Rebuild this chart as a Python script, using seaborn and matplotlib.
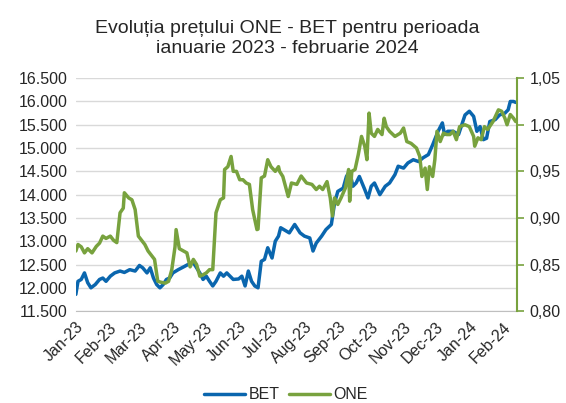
import pandas as pd
import seaborn as sns
import matplotlib.pyplot as plt
import matplotlib.dates as mdates
from matplotlib.ticker import FuncFormatter, MultipleLocator

# days since 1 Jan 2023
bet_days = [0, 2, 5, 8, 11, 14, 18, 22, 25, 28, 32, 36, 41, 45, 50, 55, 59, 62, 66, 69,
            72, 75, 78, 81, 84, 87, 90, 95, 100, 104, 109, 112, 115, 118, 121, 124, 127,
            130, 134, 137, 140, 143, 146, 151, 154, 157, 160, 163, 166, 169, 172, 175,
            178, 182, 185, 188, 190, 198, 203, 208, 212, 217, 220, 223, 228, 232, 237,
            240, 243, 248, 251, 254, 257, 260, 263, 268, 271, 274, 277, 282, 287, 291,
            296, 299, 304, 308, 313, 318, 322, 327, 331, 336, 340, 342, 345, 350, 355,
            358, 361, 365, 369, 372, 375, 378, 381, 384, 389, 393, 398, 401, 403, 406, 408]
bet = [11860, 12140, 12180, 12320, 12110, 12000, 12070, 12180, 12210, 12140, 12250, 12320,
       12360, 12330, 12390, 12360, 12480, 12430, 12320, 12430, 12210, 12070, 12000, 12070,
       12180, 12210, 12320, 12390, 12450, 12500, 12540, 12430, 12320, 12180, 12250, 12140,
       12040, 12140, 12320, 12250, 12320, 12250, 12180, 12190, 12250, 12040, 12360, 12140,
       12040, 12000, 12570, 12610, 12860, 12640, 13000, 13110, 13290, 13180, 13360, 13180,
       13110, 13070, 12790, 12960, 13110, 13250, 13360, 13820, 14070, 14140, 14390, 14500,
       14180, 14250, 14390, 14110, 13930, 14180, 14250, 14000, 14180, 14250, 14430, 14610,
       14570, 14680, 14750, 14710, 14790, 14860, 15070, 15360, 15540, 15290, 15360, 15360,
       15290, 15500, 15710, 15790, 15680, 15360, 15460, 15180, 15210, 15570, 15610, 15710,
       15750, 15820, 16000, 16000, 15980]

one_days = [0, 2, 5, 8, 11, 15, 19, 22, 25, 28, 32, 35, 38, 41, 44, 45, 49, 52, 55, 58,
            61, 64, 67, 70, 73, 76, 79, 83, 86, 89, 92, 93, 96, 100, 103, 106, 109, 112,
            115, 118, 121, 124, 127, 130, 134, 137, 138, 141, 144, 146, 149, 152, 155, 158,
            161, 164, 168, 169, 172, 175, 178, 181, 185, 188, 189, 192, 197, 200, 205, 209,
            214, 219, 223, 226, 229, 233, 236, 238, 240, 243, 246, 250, 253, 254, 256, 259,
            262, 265, 268, 270, 272, 274, 277, 280, 284, 286, 288, 291, 296, 301, 304, 307,
            311, 316, 319, 321, 324, 326, 328, 331, 333, 335, 338, 341, 344, 347, 350, 353,
            356, 361, 365, 369, 370, 373, 376, 379, 382, 387, 392, 395, 398, 400, 403, 406, 408]
one = [0.8645, 0.8715, 0.869, 0.8625, 0.867, 0.8625, 0.8695, 0.873, 0.8805, 0.878, 0.8805,
       0.876, 0.8735, 0.9055, 0.9105, 0.927, 0.9215, 0.9195, 0.909, 0.8805, 0.876, 0.8715,
       0.8645, 0.860, 0.8555, 0.832, 0.831, 0.830, 0.832, 0.8445, 0.869, 0.8875, 0.867,
       0.8645, 0.8625, 0.8475, 0.8555, 0.850, 0.8375, 0.839, 0.841, 0.8445, 0.8445, 0.9055,
       0.9195, 0.9215, 0.952, 0.955, 0.966, 0.950, 0.950, 0.941, 0.941, 0.9375, 0.936,
       0.909, 0.8875, 0.888, 0.943, 0.945, 0.9625, 0.955, 0.950, 0.955, 0.950, 0.9445,
       0.923, 0.9375, 0.936, 0.945, 0.9375, 0.936, 0.9305, 0.934, 0.9305, 0.939, 0.9215,
       0.902, 0.9215, 0.9145, 0.9215, 0.932, 0.952, 0.918, 0.950, 0.952, 0.968, 0.9875,
       0.977, 0.9625, 1.0125, 0.991, 0.9875, 0.995, 0.9895, 1.007, 0.998, 0.993, 0.9875,
       0.991, 0.9965, 0.982, 0.980, 0.975, 0.966, 0.9445, 0.9535, 0.9305, 0.955, 0.9445,
       0.9625, 0.993, 0.982, 0.991, 0.9895, 0.9895, 0.993, 0.984, 0.998, 1.000, 0.998,
       0.9875, 0.977, 0.986, 0.984, 0.998, 0.995, 1.0035, 1.016, 1.0145, 1.007, 1.000,
       1.011, 1.007, 1.0035]

start = pd.Timestamp('2023-01-01')
df_bet = pd.DataFrame({'date': start + pd.to_timedelta(bet_days, unit='D'), 'value': bet})
df_one = pd.DataFrame({'date': start + pd.to_timedelta(one_days, unit='D'), 'value': one})

blue = '#0A66AE'
green = '#78A23E'

sns.set_style('white')
plt.rcParams['font.family'] = ['Liberation Sans', 'DejaVu Sans']

fig = plt.figure(figsize=(5.66, 4.03), dpi=100)
ax = fig.add_axes([0.134, 0.228, 0.779, 0.578])
ax2 = ax.twinx()

sns.lineplot(data=df_bet, x='date', y='value', ax=ax, color=blue, linewidth=2.5, label='BET', legend=False)
sns.lineplot(data=df_one, x='date', y='value', ax=ax2, color=green, linewidth=2.5, label='ONE', legend=False)

# left axis
ax.set_ylim(11500, 16500)
ax.yaxis.set_major_locator(MultipleLocator(500))
ax.yaxis.set_major_formatter(FuncFormatter(lambda v, p: f'{v:,.0f}'.replace(',', '.')))
ax.grid(axis='y', color='#D9D9D9', linewidth=1)
ax.set_axisbelow(True)
ax.set_xlabel('')
ax.set_ylabel('')
ax.tick_params(axis='y', length=0, labelsize=11.5, pad=6)

# x axis
ax.set_xlim(start, start + pd.Timedelta(days=409))
ax.xaxis.set_major_locator(mdates.MonthLocator())
ax.xaxis.set_major_formatter(mdates.DateFormatter('%b-%y'))
ax.tick_params(axis='x', length=4, color='#BFBFBF', direction='out', labelsize=11.5, pad=2)
for lbl in ax.get_xticklabels():
    lbl.set_rotation(45)
    lbl.set_ha('right')
    lbl.set_rotation_mode('anchor')

for s in ['top', 'left', 'right']:
    ax.spines[s].set_visible(False)
ax.spines['bottom'].set_color('#BFBFBF')

# right axis
ax2.set_ylim(0.80, 1.05)
ax2.yaxis.set_major_locator(MultipleLocator(0.05))
ax2.yaxis.set_major_formatter(FuncFormatter(lambda v, p: f'{v:.2f}'.replace('.', ',')))
ax2.set_ylabel('')
ax2.tick_params(axis='y', length=5, color=green, width=1.2, labelsize=11.5, pad=4)
for s in ['top', 'left', 'bottom']:
    ax2.spines[s].set_visible(False)
ax2.spines['right'].set_color(green)
ax2.spines['right'].set_linewidth(1.5)
ax2.grid(False)

fig.text(0.507, 0.905, 'Evoluția prețului ONE - BET pentru perioada\nianuarie 2023 - februarie 2024',
         ha='center', va='center', fontsize=14, linespacing=1.25)

h1, l1 = ax.get_legend_handles_labels()
h2, l2 = ax2.get_legend_handles_labels()
fig.legend(h1 + h2, l1 + l2, loc='center', bbox_to_anchor=(0.505, 0.02), ncol=2,
           frameon=False, fontsize=11.5, handlelength=2.6, columnspacing=0.6, handletextpad=0.2)

fig.savefig('out.png', dpi=100)
